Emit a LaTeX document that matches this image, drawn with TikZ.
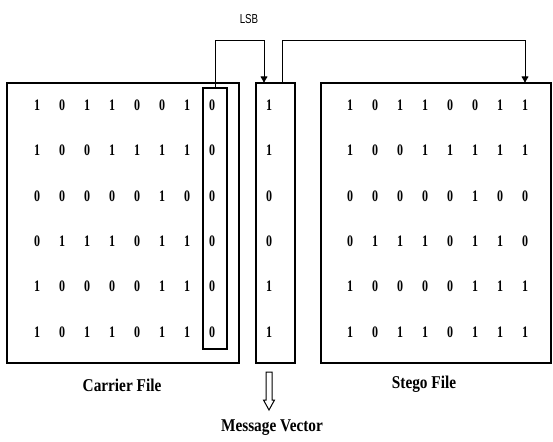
\documentclass[tikz,border=0pt]{standalone}
\usepackage{fontspec}
\setmainfont{Liberation Serif}
\newfontfamily\lsbfont{Liberation Sans}
\usetikzlibrary{arrows.meta}
\newcommand{\squeeze}[2]{\scalebox{#1}[1]{#2}}
\begin{document}
\begin{tikzpicture}
    [x=1pt,y=-1pt,
    box/.style={draw,line width=1.3pt,inner sep=0pt},
    bit/.style={font=\bfseries\fontsize{16}{16}\selectfont,inner sep=0pt},
    link/.style={line width=1pt,-{Latex[length=7pt,width=8pt,round]}},
    caption/.style={font=\bfseries\fontsize{18}{18}\selectfont}]
    \useasboundingbox (0,0) rectangle (553,441);
    %boxes
    \node[box,minimum width=232pt,minimum height=280pt] (carrier) at (123,223) {};
    \node[box,minimum width=24pt,minimum height=261pt] (lsb) at (215,218.5) {};
    \node[box,minimum width=39pt,minimum height=280pt] (msg) at (275.5,223) {};
    \node[box,minimum width=230pt,minimum height=280pt] (stego) at (436,223) {};
    %carrier bits
    \foreach \row [count=\i] in {{1,0,1,1,0,0,1,0},{1,0,0,1,1,1,1,0},{0,0,0,0,0,1,0,0},
        {0,1,1,1,0,1,1,0},{1,0,0,0,0,1,1,0},{1,0,1,1,0,1,1,0}}
    {
        \foreach \b [count=\j] in \row
            \node[bit] (c-\i-\j) at ({37+25*(\j-1)},{105+45.4*(\i-1)}) {\squeeze{0.75}{\b}};
    }
    %message bits
    \foreach \b [count=\i] in {1,1,0,0,1,1}
        \node[bit] (m-\i) at (269,{105+45.4*(\i-1)}) {\squeeze{0.75}{\b}};
    %stego bits
    \foreach \row [count=\i] in {{1,0,1,1,0,0,1,1},{1,0,0,1,1,1,1,1},{0,0,0,0,0,1,0,0},
        {0,1,1,1,0,1,1,0},{1,0,0,0,0,1,1,1},{1,0,1,1,0,1,1,1}}
    {
        \foreach \b [count=\j] in \row
            \node[bit] (s-\i-\j) at ({350+25*(\j-1)},{105+45.4*(\i-1)}) {\squeeze{0.75}{\b}};
    }
    %wires
    \coordinate (bus) at (0,41);
    \coordinate (msg-in) at ([xshift=-11.5pt]msg.north);
    \coordinate (msg-out) at ([xshift=6.5pt]msg.north);
    \node[font=\lsbfont\fontsize{13}{13}\selectfont] (lsb-label) at (249,19) {\squeeze{0.75}{LSB}};
    \draw[link] (lsb.north) -- (lsb.north |- bus) -| (msg-in);
    \draw[link] (msg-out) -- (msg-out |- bus) -| (s-1-8 |- stego.north);
    %hollow arrow
    \coordinate (down) at (269,372);
    \draw[line width=1pt] (down) ++(-3,0) -- ++(0,28) -- ++(-2.5,0) -- (269,410)
        -- (274.5,400) -- (272,400) -- (272,372) -- cycle;
    %captions
    \node[caption] (carrier-label) at (122,385) {\squeeze{0.85}{Carrier File}};
    \node[caption] (stego-label) at (424,384) {\squeeze{0.85}{Stego File}};
    \node[caption] (msg-label) at (272,428) {\squeeze{0.85}{Message Vector}};
\end{tikzpicture}
\end{document}
